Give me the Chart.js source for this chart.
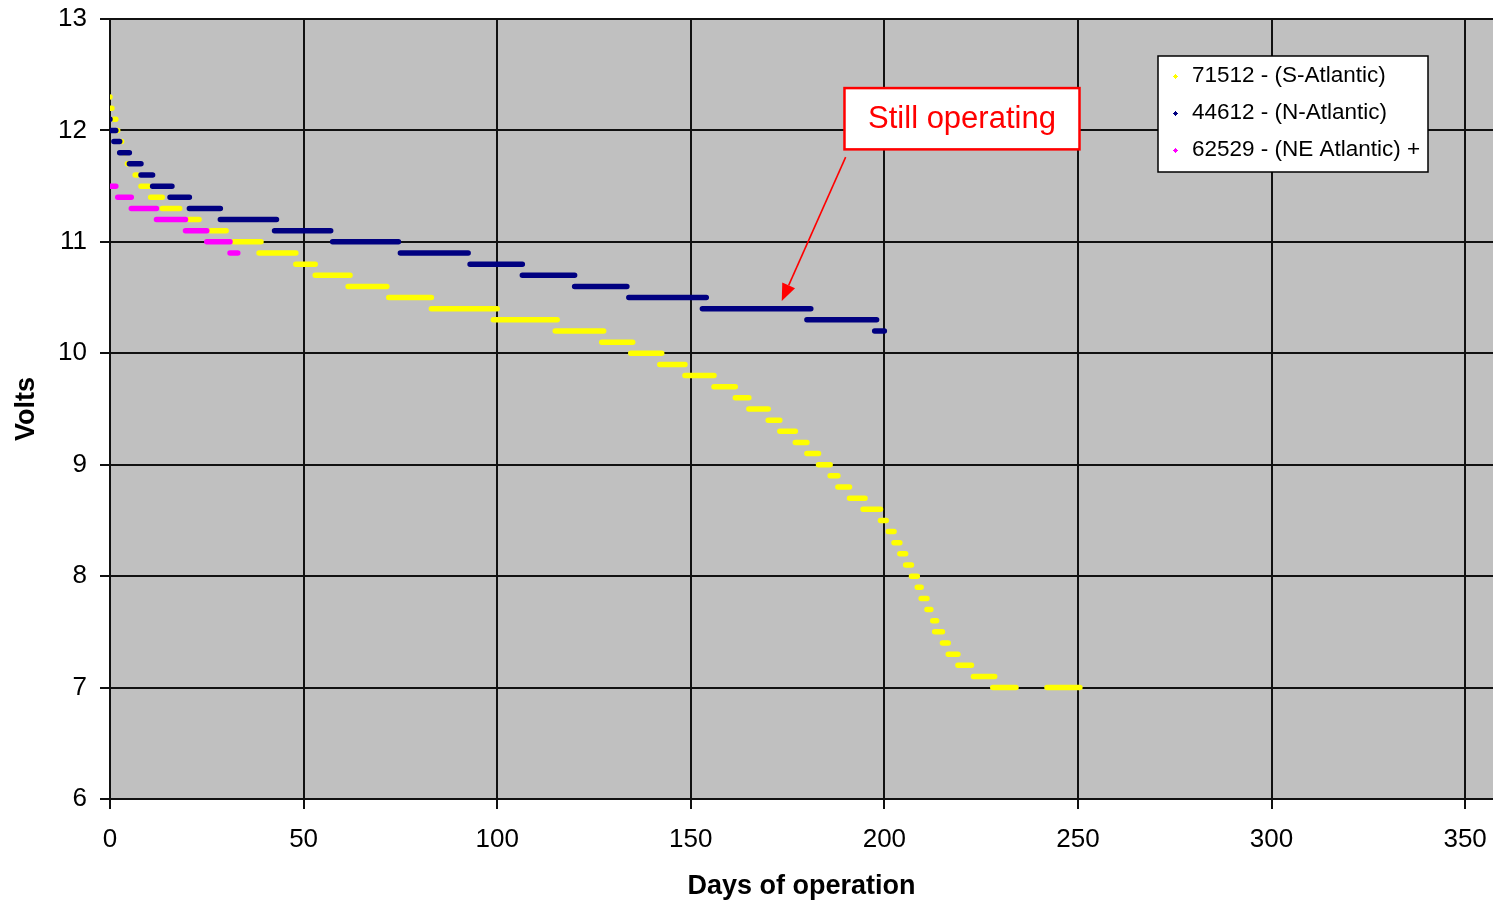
<!DOCTYPE html>
<html>
<head>
<meta charset="utf-8">
<title>Battery voltage</title>
<script src="https://cdn.jsdelivr.net/npm/chart.js@4"></script>
<style>
  html, body { margin: 0; padding: 0; background: #fff; }
  #wrap { width: 1493px; height: 901px; }
</style>
</head>
<body>
<div id="wrap"><canvas id="voltChart"></canvas></div>
<script>
// readings are 0.1 V steps; each row is a level held from day .. to day
const dayTicks = [0, 50, 100, 150, 200, 250, 300, 350];
const voltTicks = [6, 7, 8, 9, 10, 11, 12, 13];

const sAtlanticVolts = [12.3, 12.2, 12.1, 12.0, 11.9, 11.8, 11.7, 11.6, 11.5, 11.4, 11.3, 11.2, 11.1, 11.0, 10.9, 10.8, 10.7, 10.6, 10.5, 10.4, 10.3, 10.2, 10.1, 10.0, 9.9, 9.8, 9.7, 9.6, 9.5, 9.4, 9.3, 9.2, 9.1, 9.0, 8.9, 8.8, 8.7, 8.6, 8.5, 8.4, 8.3, 8.2, 8.1, 8.0, 7.9, 7.8, 7.7, 7.6, 7.5, 7.4, 7.3, 7.2, 7.1, 7.0, 7.0];
const sAtlanticFrom = [0, 0, 1, 2, 3, 3.5, 4.5, 6.5, 8, 10.5, 13.5, 20.5, 26, 32, 38.5, 48, 53, 61.5, 72, 83, 99, 115, 127, 134.5, 142, 148.5, 156, 161.5, 165, 170, 173, 177, 180, 183, 186, 188, 191, 194.5, 199, 201, 202.5, 204, 205.5, 207, 208.5, 209.5, 211, 212.5, 213, 215, 216.5, 219, 223, 228, 242];
const sAtlanticTo = [0, 0.5, 1.5, 2, 3, 4, 4.5, 7, 10, 13.5, 18, 23, 30, 39, 48, 53, 62, 71.5, 83, 100, 115.5, 127.5, 135, 142.5, 148.5, 156, 161.5, 165, 170, 173, 177, 180, 183, 186, 188, 191, 195, 199, 200.5, 202.5, 204, 205.5, 207, 208.5, 209.5, 211, 212, 213.5, 215, 216.5, 219, 222.5, 228.5, 234, 250.5];

const nAtlanticVolts = [12.1, 12.0, 11.9, 11.8, 11.7, 11.6, 11.5, 11.4, 11.3, 11.2, 11.1, 11.0, 10.9, 10.8, 10.7, 10.6, 10.5, 10.4, 10.3, 10.2];
const nAtlanticFrom = [0, 0, 1, 2.5, 5, 8, 11, 15.5, 20.5, 28.5, 42.5, 57.5, 75, 93, 106.5, 120, 134, 153, 180, 197.5];
const nAtlanticTo = [0, 1.5, 2.5, 5, 8, 11, 16, 20.5, 28.5, 43, 57, 74.5, 92.5, 106.5, 120, 133.5, 154, 181, 198, 200];

const neAtlanticVolts = [11.5, 11.4, 11.3, 11.2, 11.1, 11.0, 10.9];
const neAtlanticFrom = [0, 2, 5.5, 12, 19.5, 25, 31];
const neAtlanticTo = [1.5, 5.5, 12, 19.5, 25, 31, 33];

// one short line per voltage level, split with a null point
function levelRuns(volts, from, to) {
    const pts = [];
    for (let i = 0; i < volts.length; i++) {
        pts.push({ x: from[i], y: volts[i] });
        pts.push({ x: to[i], y: volts[i] });
        pts.push({ x: to[i], y: null });
    }
    return pts;
}

const FONT = "'Liberation Sans', Arial, sans-serif";

const plotBackground = {
    id: 'plotBackground',
    beforeDraw(chart) {
        const { ctx, chartArea: a } = chart;
        ctx.save();
        ctx.fillStyle = '#c0c0c0';
        ctx.fillRect(a.left, a.top, a.right - a.left, a.bottom - a.top);
        ctx.restore();
    }
};

// legend box in the upper right
const boxLegend = {
    id: 'boxLegend',
    afterDraw(chart) {
        const ctx = chart.ctx;
        const x = 1158, y = 56, w = 270, h = 116;
        ctx.save();
        ctx.fillStyle = '#fff';
        ctx.fillRect(x, y, w, h);
        ctx.strokeStyle = '#000';
        ctx.lineWidth = 1.5;
        ctx.strokeRect(x, y, w, h);
        ctx.font = '22.5px ' + FONT;
        ctx.textBaseline = 'middle';
        chart.data.datasets.forEach((ds, i) => {
            const ty = y + 20 + i * 37;
            ctx.fillStyle = ds.borderColor;
            ctx.fillRect(x + 16, ty - 1, 3, 3);
            ctx.fillRect(x + 17, ty - 2, 1, 5);
            ctx.fillRect(x + 15, ty, 5, 1);
            ctx.fillStyle = '#000';
            ctx.fillText(ds.label, x + 34, ty);
        });
        ctx.restore();
    }
};

// "Still operating" call-out, anchored in data units
const callout = {
    id: 'callout',
    afterDraw(chart) {
        const { ctx, scales: { x, y } } = chart;
        const left = x.getPixelForValue(189.7), right = x.getPixelForValue(250.4);
        const top = y.getPixelForValue(12.38), bottom = y.getPixelForValue(11.83);
        const ax = x.getPixelForValue(190), ay = y.getPixelForValue(11.76);
        const bx = x.getPixelForValue(173.5), by = y.getPixelForValue(10.47);
        ctx.save();
        ctx.fillStyle = '#fff';
        ctx.fillRect(left, top, right - left, bottom - top);
        ctx.strokeStyle = '#ff0000';
        ctx.lineWidth = 2.5;
        ctx.strokeRect(left, top, right - left, bottom - top);
        ctx.fillStyle = '#ff0000';
        ctx.font = '31px ' + FONT;
        ctx.textAlign = 'center';
        ctx.textBaseline = 'middle';
        ctx.fillText('Still operating', (left + right) / 2, (top + bottom) / 2 + 1);

        const ang = Math.atan2(by - ay, bx - ax);
        const len = 17, half = 7;
        const hx = bx - len * Math.cos(ang), hy = by - len * Math.sin(ang);
        ctx.lineWidth = 1.6;
        ctx.beginPath();
        ctx.moveTo(ax, ay);
        ctx.lineTo(hx, hy);
        ctx.stroke();
        ctx.beginPath();
        ctx.moveTo(bx, by);
        ctx.lineTo(hx + half * Math.sin(ang), hy - half * Math.cos(ang));
        ctx.lineTo(hx - half * Math.sin(ang), hy + half * Math.cos(ang));
        ctx.closePath();
        ctx.fill();
        ctx.restore();
    }
};

function createChart() {
    const canvas = document.getElementById('voltChart');
    if (!canvas) {
        return;
    }
    const ctx = canvas.getContext('2d');
    const common = {
        borderWidth: 5.5,
        borderCapStyle: 'round',
        pointRadius: 0,
        pointHoverRadius: 0,
        spanGaps: false,
        tension: 0
    };

    new Chart(ctx, {
        type: 'line',
        data: {
            datasets: [
                Object.assign({
                    label: '71512 - (S-Atlantic)',
                    data: levelRuns(sAtlanticVolts, sAtlanticFrom, sAtlanticTo),
                    borderColor: '#ffff00',
                    order: 3
                }, common),
                Object.assign({
                    label: '44612 - (N-Atlantic)',
                    data: levelRuns(nAtlanticVolts, nAtlanticFrom, nAtlanticTo),
                    borderColor: '#000080',
                    order: 2
                }, common),
                Object.assign({
                    label: '62529 - (NE Atlantic) +',
                    data: levelRuns(neAtlanticVolts, neAtlanticFrom, neAtlanticTo),
                    borderColor: '#ff00ff',
                    order: 1
                }, common)
            ]
        },
        options: {
            responsive: true,
            maintainAspectRatio: false,
            animation: false,
            layout: { padding: { top: 19, right: 0, bottom: 0, left: 0 } },
            plugins: {
                legend: { display: false },
                tooltip: { enabled: false }
            },
            scales: {
                x: {
                    type: 'linear',
                    min: 0,
                    max: 357.2,
                    afterBuildTicks: (scale) => {
                        scale.ticks = dayTicks.map(v => ({ value: v }));
                    },
                    afterFit: (scale) => {
                        scale.height = 102;
                        scale.paddingLeft = 0;
                        scale.paddingRight = 0;
                    },
                    grid: { color: '#111', lineWidth: 2, tickLength: 10, drawTicks: true },
                    border: { color: '#111', width: 2 },
                    ticks: {
                        color: '#000',
                        padding: 15,
                        maxRotation: 0,
                        font: { family: FONT, size: 26 }
                    },
                    title: {
                        display: true,
                        text: 'Days of operation',
                        color: '#000',
                        padding: { top: 4, bottom: -2 },
                        font: { family: FONT, size: 27, weight: 'bold' }
                    }
                },
                y: {
                    type: 'linear',
                    min: 6,
                    max: 13,
                    afterBuildTicks: (scale) => {
                        scale.ticks = voltTicks.map(v => ({ value: v }));
                    },
                    afterFit: (scale) => {
                        scale.width = 110;
                        scale.paddingTop = 0;
                        scale.paddingBottom = 0;
                    },
                    grid: { color: '#111', lineWidth: 2, tickLength: 10, drawTicks: true },
                    border: { color: '#111', width: 2 },
                    ticks: {
                        color: '#000',
                        padding: 13,
                        font: { family: FONT, size: 26 }
                    },
                    title: {
                        display: true,
                        text: 'Volts',
                        color: '#000',
                        padding: { top: 10, bottom: 0 },
                        font: { family: FONT, size: 27, weight: 'bold' }
                    }
                }
            }
        },
        plugins: [plotBackground, boxLegend, callout]
    });
}

createChart();
</script>
</body>
</html>
